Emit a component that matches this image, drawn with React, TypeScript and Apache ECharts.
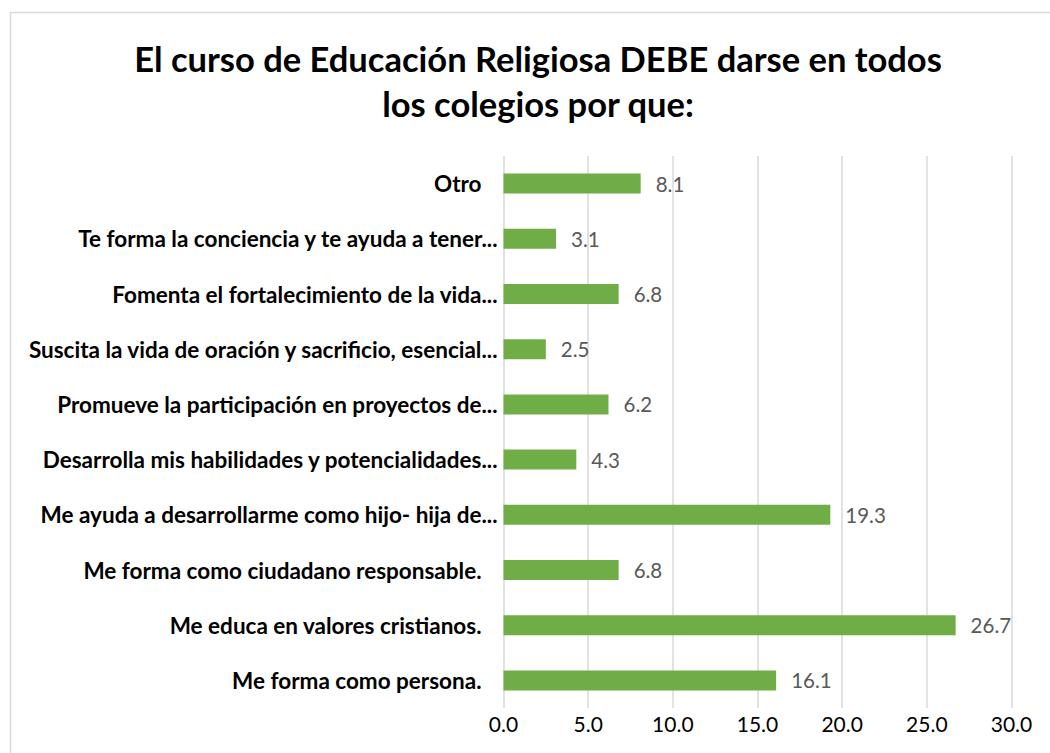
import React, { useEffect, useRef } from "react";
import * as echarts from "echarts";

const titleLines = [
  "El curso de Educación Religiosa DEBE darse en todos",
  "los colegios por que:",
];

const categories = [
  "Otro",
  "Te forma la conciencia y te ayuda a tener...",
  "Fomenta el fortalecimiento de la vida...",
  "Suscita la vida de oración y sacrificio, esencial...",
  "Promueve la participación en proyectos de...",
  "Desarrolla mis habilidades y potencialidades...",
  "Me ayuda a desarrollarme como hijo- hija de...",
  "Me forma como ciudadano responsable.",
  "Me educa en valores cristianos.",
  "Me forma como persona.",
];

const values = [8.1, 3.1, 6.8, 2.5, 6.2, 4.3, 19.3, 6.8, 26.7, 16.1];

const xTicks = { min: 0, max: 30, interval: 5 };

const FONT = "Lato, 'Noto Sans', sans-serif";

export default function App() {
  const ref = useRef<HTMLDivElement>(null);

  useEffect(() => {
    document.body.style.margin = "0";
    if (!ref.current) return;
    const chart = echarts.init(ref.current, undefined, { renderer: "svg" });
    chart.setOption({
      animation: false,
      backgroundColor: "#ffffff",
      textStyle: { fontFamily: FONT },
      graphic: [
        {
          type: "rect",
          shape: { x: 10.5, y: 12.5, width: 1100, height: 800 },
          style: { fill: "none", stroke: "#d9d9d9", lineWidth: 1.5 },
          silent: true,
        },
        {
          type: "text",
          x: 538,
          y: 80.5,
          style: {
            text: titleLines.join("\n"),
            font: `bold 34.5px ${FONT}`,
            fill: "#000000",
            textAlign: "center",
            textVerticalAlign: "middle",
            lineHeight: 45,
          },
        },
      ],
      grid: { left: 503.5, right: 38.5, top: 156, bottom: 45, containLabel: false },
      xAxis: {
        type: "value",
        min: xTicks.min,
        max: xTicks.max,
        interval: xTicks.interval,
        axisLine: { show: false },
        axisTick: { show: false },
        splitLine: { show: true, lineStyle: { color: "#d9d9d9", width: 1.5 } },
        axisLabel: {
          formatter: (v: number) => v.toFixed(1),
          color: "#000000",
          fontSize: 21,
          fontFamily: FONT,
          margin: 5,
        },
      },
      yAxis: {
        type: "category",
        inverse: true,
        data: categories,
        axisLine: { show: false },
        axisTick: { show: false },
        axisLabel: {
          margin: 6,
          formatter: (v: string) => (v.endsWith("...") ? `{t|${v}}` : `{p|${v}}`),
          rich: {
            t: { fontSize: 22.5, fontWeight: "bold", color: "#000000", fontFamily: FONT },
            p: {
              fontSize: 22.5,
              fontWeight: "bold",
              color: "#000000",
              fontFamily: FONT,
              padding: [0, 16, 0, 0],
            },
          },
        },
      },
      series: [
        {
          type: "bar",
          data: values,
          barWidth: 20,
          itemStyle: { color: "#70ad47" },
          label: {
            show: true,
            position: "right",
            distance: 15,
            formatter: (p: any) => Number(p.value).toFixed(1),
            color: "#595959",
            fontSize: 20.5,
            fontFamily: FONT,
          },
        },
      ],
    });
    return () => chart.dispose();
  }, []);

  return (
    <div
      ref={ref}
      style={{ position: "absolute", left: 0, top: 0, width: 1050, height: 753 }}
    />
  );
}
